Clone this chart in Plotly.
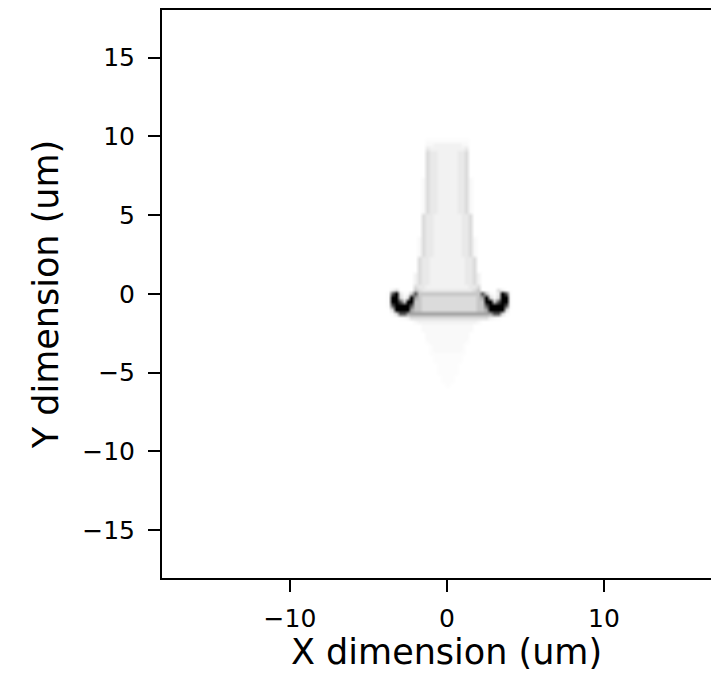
import plotly.graph_objects as go

# Intensity levels used by the digit-coded rows (0..9)
levels = [0.0, 0.012, 0.025, 0.05, 0.085, 0.14, 0.22, 0.36, 0.66, 1.0]

# Image grid: 33 columns from x=-4 um (step 0.25 um), rows listed top (y=10) to bottom (y=-6)
grid_x0 = -4.0
grid_dx = 0.25
grid_ytop = 10.0
grid_dy = 0.25

# (repeat count, row pattern), top to bottom
row_runs = [
    (1, "000000000000000000000000000000000"),  # y=10.0
    (1, "000000000001111111111100000000000"),
    (1, "000000000002233333332200000000000"),
    (1, "000000000004333333333400000000000"),
    (7, "000000000005443333344500000000000"),
    (9, "000000000025443333344520000000000"),
    (6, "000000000054433333334450000000000"),
    (5, "000000000254433333334452000000000"),
    (4, "000000000544333333333445000000000"),
    (3, "000000003544333333333445300000000"),
    (1, "000000005443333333333344500000000"),  # y=0.5
    (1, "003500006544444444444445600005300"),  # y=0.25
    (1, "018941268666666666666666686214981"),  # y=0.0
    (1, "019952597655555555555555679525991"),
    (1, "019986996655555555555555669968991"),
    (1, "018999986655555555555555668999981"),
    (1, "005999976655555555555555667999950"),  # y=-1.0
    (1, "001588777777777777777777777788510"),
    (1, "000012355555555555555555555321000"),
    (1, "000000002333333333333333200000000"),
    (2, "000000000022222222222220000000000"),
    (2, "000000000002222222222200000000000"),
    (1, "000000000001222222222100000000000"),
    (2, "000000000000122222221000000000000"),
    (1, "000000000000111111111000000000000"),
    (2, "000000000000011111110000000000000"),
    (3, "000000000000001111100000000000000"),
    (2, "000000000000000111000000000000000"),
    (1, "000000000000000010000000000000000"),
    (1, "000000000000000000000000000000000"),  # y=-6.0
]

x_ticks = [-10, 0, 10]
x_ticktext = ["\u221210", "0", "10"]
y_ticks = [-15, -10, -5, 0, 5, 10, 15]
y_ticktext = ["\u221215", "\u221210", "\u22125", "0", "5", "10", "15"]
x_title = "X dimension (um)"
y_title = "Y dimension (um)"

rows = []
for count, pattern in row_runs:
    for _ in range(count):
        rows.append([levels[int(c)] for c in pattern])
n_rows = len(rows)
z = rows[::-1]  # bottom row first
y0 = grid_ytop - grid_dy * (n_rows - 1)

fig = go.Figure(
    go.Heatmap(
        z=z,
        x0=grid_x0,
        dx=grid_dx,
        y0=y0,
        dy=grid_dy,
        colorscale=[[0, "white"], [1, "black"]],
        zmin=0,
        zmax=1,
        zsmooth="best",
        showscale=False,
        hoverinfo="skip",
    )
)

font_family = "DejaVu Sans"
fig.update_layout(
    width=711,
    height=682,
    margin=dict(l=162, r=0, t=10, b=104),
    paper_bgcolor="white",
    plot_bgcolor="white",
    font=dict(family=font_family, color="black"),
    showlegend=False,
)
# x title placed under the (partly cropped) axis centre at x=0
fig.add_annotation(
    text=x_title,
    x=0,
    xref="x",
    y=-0.13,
    yref="paper",
    xanchor="center",
    yanchor="middle",
    showarrow=False,
    font=dict(size=35, family=font_family, color="black"),
)
fig.update_xaxes(
    range=[-18.15, 16.82],
    tickvals=x_ticks,
    ticktext=x_ticktext,
    tickfont=dict(size=25, family=font_family, color="black"),
    showline=True,
    linecolor="black",
    linewidth=2,
    mirror=True,
    ticks="outside",
    ticklen=12,
    tickwidth=1.6,
    tickcolor="black",
    showgrid=False,
    zeroline=False,
    ticklabelstandoff=5,
)
fig.update_yaxes(
    range=[-18.04, 18.03],
    tickvals=y_ticks,
    ticktext=y_ticktext,
    tickfont=dict(size=25, family=font_family, color="black"),
    title=dict(text=y_title, font=dict(size=35, family=font_family, color="black"), standoff=13),
    showline=True,
    linecolor="black",
    linewidth=2,
    mirror=False,
    ticks="outside",
    ticklen=12,
    tickwidth=1.6,
    tickcolor="black",
    showgrid=False,
    zeroline=False,
    ticklabelstandoff=8,
)

fig.write_html("out.html")
